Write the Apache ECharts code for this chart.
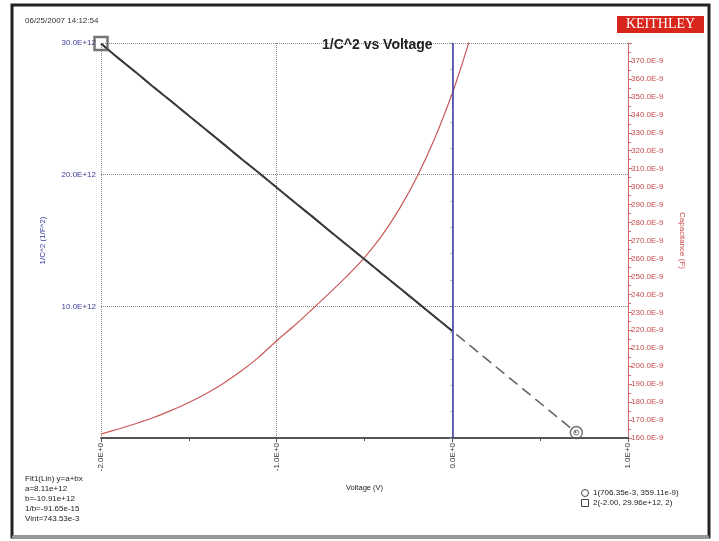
<!DOCTYPE html>
<html>
<head>
<meta charset="utf-8">
<script src="https://cdn.jsdelivr.net/npm/echarts@6/dist/echarts.min.js"></script>
<style>html,body{margin:0;padding:0;background:#fff;}#c{width:719px;height:541px;}</style>
</head>
<body>
<div id="c"></div>
<script>
// ---- data ----
var titleText = '1/C^2 vs Voltage';
var timestamp = '06/25/2007 14:12:54';
var xTicks = [-2, -1, 0, 1];
// measured 1/C^2 (units of 1e12 1/F^2)
var measV = [-2.0,-1.9,-1.8,-1.7,-1.6,-1.5,-1.4,-1.3,-1.2,-1.1,-1.0,-0.9,-0.8,-0.7,-0.6,-0.5,-0.4,-0.3,-0.2,-0.1,0.0];
var measInvC2 = [29.96,28.83,27.76,26.64,25.57,24.47,23.39,22.30,21.19,20.12,19.03,17.93,16.85,15.74,14.66,13.58,12.48,11.39,10.30,9.21,8.13];
// linear fit line (units of 1e12)
var fitV = [-2.0, 0.706];
var fitInvC2 = [29.93, 0.41];
// capacitance (units of 1e-9 F)
var capV = [-2.0,-1.9,-1.8,-1.7,-1.6,-1.5,-1.4,-1.3,-1.2,-1.1,-1.0,-0.9,-0.8,-0.7,-0.6,-0.5,-0.4,-0.3,-0.2,-0.1,0.0,0.05,0.1];
var capNF = [162.2,165.0,168.1,171.4,175.4,179.8,184.8,190.7,197.4,205.2,214.2,222.5,231.5,240.7,250.2,260.5,272.8,287.9,305.7,326.9,352.0,366.6,382.2];
// cursors
var cursor1 = [0.706, 0.41];
var cursor2 = [-2.0, 29.96];
var fitLines = ['Fit1(Lin) y=a+bx', 'a=8.11e+12', 'b=-10.91e+12', '1/b=-91.65e-15', 'Vint=743.53e-3'];
var cursorLines = ['1(706.35e-3, 359.11e-9)', '2(-2.00, 29.96e+12, 2)'];

function zip(a, b) { return a.map(function (v, i) { return [v, b[i]]; }); }

var FONT = 'Liberation Sans, Arial, sans-serif';
var BLUE = '#3b3b98';
var RED = '#c84a4a';

var chart = echarts.init(document.getElementById('c'), null, { renderer: 'canvas' });

var graphics = [
  { type: 'rect', shape: { x: 12, y: 5, width: 697, height: 532 }, style: { fill: 'none', stroke: '#222', lineWidth: 3 }, z: 100 },
  { type: 'line', shape: { x1: 12, y1: 537, x2: 709, y2: 537 }, style: { stroke: '#999', lineWidth: 3 }, z: 101 },
  { type: 'text', left: 25, top: 17, style: { text: timestamp, font: '8px ' + FONT, fill: '#333' } },
  { type: 'rect', shape: { x: 617, y: 16, width: 87, height: 17 }, style: { fill: '#d8261d' } },
  { type: 'text', x: 660.5, y: 24.5, style: { text: 'KEITHLEY', font: '14px Liberation Serif, serif', fill: '#fff', textAlign: 'center', textVerticalAlign: 'middle' } },
  { type: 'circle', shape: { cx: 585, cy: 493, r: 3.5 }, style: { fill: 'none', stroke: '#444', lineWidth: 1 } },
  { type: 'rect', shape: { x: 581.5, y: 499.5, width: 7, height: 7 }, style: { fill: 'none', stroke: '#444', lineWidth: 1 } }
];
fitLines.forEach(function (t, i) {
  graphics.push({ type: 'text', x: 25, y: 479 + i * 10, style: { text: t, font: '8px ' + FONT, fill: '#222', textVerticalAlign: 'middle' } });
});
cursorLines.forEach(function (t, i) {
  graphics.push({ type: 'text', x: 593, y: 493 + i * 10, style: { text: t, font: '8px ' + FONT, fill: '#222', textVerticalAlign: 'middle' } });
});

var option = {
  backgroundColor: '#fff',
  animation: false,
  title: { text: titleText, left: 317, top: 33, textStyle: { fontFamily: FONT, fontSize: 14, fontWeight: 'bold', color: '#222' } },
  grid: { left: 101, right: 91, top: 43, bottom: 103 },
  xAxis: {
    type: 'value', min: xTicks[0], max: xTicks[xTicks.length - 1], interval: 1,
    name: 'Voltage (V)', nameLocation: 'middle', nameGap: 46,
    nameTextStyle: { fontFamily: FONT, fontSize: 7.5, color: '#222' },
    axisLine: { onZero: false, lineStyle: { color: '#555', width: 2 } },
    axisTick: { show: true, length: 4, lineStyle: { color: '#555' } },
    minorTick: { show: true, splitNumber: 2, length: 3, lineStyle: { color: '#555' } },
    axisLabel: { rotate: 90, fontSize: 8, fontFamily: FONT, color: '#333', margin: 5,
      formatter: function (v) { return v.toFixed(1) + 'E+0'; } },
    splitLine: { show: true, lineStyle: { type: 'dotted', color: '#888' } }
  },
  yAxis: [
    {
      type: 'value', min: 0, max: 30, interval: 10, position: 'left',
      name: '1/C^2 (1/F^2)', nameLocation: 'middle', nameGap: 54,
      nameTextStyle: { fontFamily: FONT, fontSize: 8, color: BLUE },
      axisLine: { show: true, lineStyle: { color: '#aaa', type: 'dotted' } },
      axisTick: { show: true, length: 3, lineStyle: { color: '#999' } },
      minorTick: { show: true, splitNumber: 5, length: 2, lineStyle: { color: '#aaa' } },
      axisLabel: { fontSize: 8, fontFamily: FONT, color: BLUE, margin: 5,
        formatter: function (v) { return v === 0 ? '' : v.toFixed(1) + 'E+12'; } },
      splitLine: { show: true, lineStyle: { type: 'dotted', color: '#888' } }
    },
    {
      type: 'value', min: 160, max: 380, interval: 10, position: 'right',
      name: 'Capacitance (F)', nameLocation: 'middle', nameGap: 50, nameRotate: -90,
      nameTextStyle: { fontFamily: FONT, fontSize: 8, color: RED },
      axisLine: { show: true, lineStyle: { color: '#d06a6a', width: 1 } },
      axisTick: { show: true, length: 4, lineStyle: { color: '#d06a6a' } },
      minorTick: { show: true, splitNumber: 2, length: 3, lineStyle: { color: '#d06a6a' } },
      axisLabel: { fontSize: 8, fontFamily: FONT, color: RED, margin: 3,
        formatter: function (v) { return v >= 380 ? '' : v.toFixed(1) + 'E-9'; } },
      splitLine: { show: false }
    }
  ],
  series: [
    {
      name: 'Capacitance', type: 'line', yAxisIndex: 1, data: zip(capV, capNF),
      smooth: 0.2, showSymbol: false, clip: true,
      lineStyle: { color: '#c85a5a', width: 1.2 },
      markLine: {
        silent: true, symbol: 'none', label: { show: false },
        lineStyle: { color: '#3838a8', width: 1.5, type: 'solid' },
        data: [{ xAxis: 0 }]
      }
    },
    {
      name: 'Fit', type: 'line', yAxisIndex: 0, data: zip(fitV, fitInvC2),
      showSymbol: false, lineStyle: { color: '#666', width: 1.6, type: [11, 6] }
    },
    {
      name: '1/C^2', type: 'line', yAxisIndex: 0, data: zip(measV, measInvC2),
      showSymbol: false, lineStyle: { color: '#3a3a3a', width: 2 }
    },
    {
      name: 'Cursor2', type: 'scatter', yAxisIndex: 0, data: [cursor2],
      symbol: 'rect', symbolSize: 13,
      itemStyle: { color: 'rgba(0,0,0,0)', borderColor: '#555', borderWidth: 2.5 }, z: 5
    },
    {
      name: 'Cursor1', type: 'scatter', yAxisIndex: 0, data: [cursor1],
      symbol: 'circle', symbolSize: 12,
      itemStyle: { color: 'rgba(0,0,0,0)', borderColor: '#555', borderWidth: 1.5 }, z: 5
    },
    {
      name: 'Cursor1dot', type: 'scatter', yAxisIndex: 0, data: [cursor1],
      symbol: 'circle', symbolSize: 5,
      itemStyle: { color: 'rgba(0,0,0,0)', borderColor: '#555', borderWidth: 1 }, z: 5
    }
  ],
  graphic: graphics
};
chart.setOption(option);
</script>
</body>
</html>
